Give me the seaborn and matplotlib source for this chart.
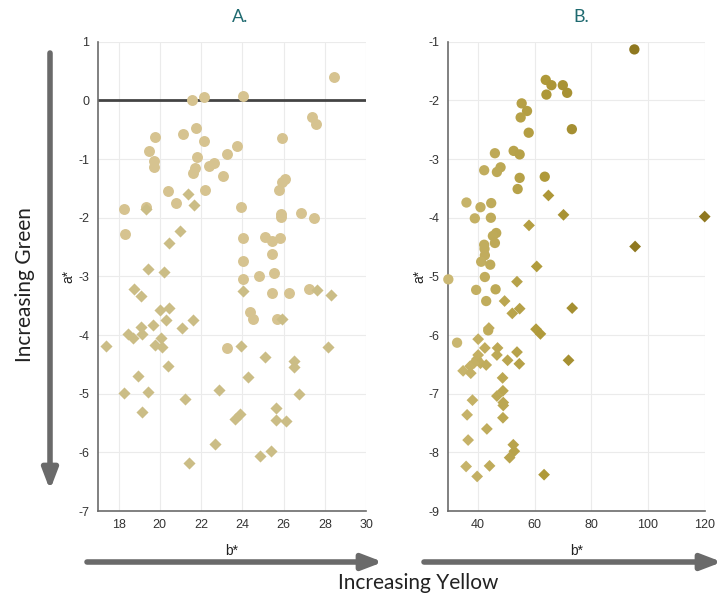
import pandas as pd
import matplotlib.pyplot as plt
import seaborn as sns
from matplotlib.colors import LinearSegmentedColormap

# =============================================================================
# Data (b* on x, a* on y)
# =============================================================================

# Panel A - circles
a_circle_b = [28.42, 21.57, 22.15, 24.01, 27.40, 27.58, 21.74, 21.14, 19.77, 25.93,
              22.13, 19.46, 23.72, 23.27, 21.78, 19.72, 19.72, 22.64, 22.38, 21.71,
              21.61, 23.07, 26.09, 25.91, 25.78, 22.21, 20.41, 20.77, 23.93, 18.29,
              19.31, 26.82, 25.86, 25.86, 27.45, 18.32, 24.01, 25.08, 25.44, 25.83,
              25.44, 24.03, 24.04, 24.82, 25.55, 25.46, 26.28, 27.22, 24.37, 24.50,
              25.68, 23.28]
a_circle_a = [0.40, 0.00, 0.06, 0.07, -0.28, -0.40, -0.47, -0.58, -0.63, -0.64,
              -0.69, -0.86, -0.77, -0.91, -0.97, -1.03, -1.13, -1.06, -1.11, -1.16,
              -1.24, -1.29, -1.34, -1.39, -1.53, -1.53, -1.55, -1.74, -1.81, -1.85,
              -1.82, -1.92, -1.94, -1.98, -2.01, -2.28, -2.35, -2.32, -2.39, -2.35,
              -2.61, -2.73, -3.05, -2.99, -2.94, -3.28, -3.28, -3.22, -3.60, -3.73,
              -3.73, -4.22]

# Panel A - diamonds
a_diamond_b = [19.31, 21.37, 21.65, 21.00, 20.45, 19.41, 20.22, 18.76, 19.10, 20.45,
               19.99, 20.32, 19.65, 19.10, 19.13, 21.08, 21.61, 18.45, 18.68, 20.04,
               19.77, 20.12, 17.37, 20.41, 18.94, 18.29, 19.41, 21.24, 19.13, 21.40,
               22.68, 22.86, 23.64, 23.88, 23.96, 24.01, 24.26, 24.87, 25.41, 25.11,
               25.63, 25.63, 26.10, 25.94, 26.52, 26.51, 26.74, 27.63, 28.28, 28.16]
a_diamond_a = [-1.85, -1.59, -1.79, -2.23, -2.43, -2.88, -2.92, -3.22, -3.33, -3.54,
               -3.57, -3.75, -3.83, -3.87, -3.98, -3.88, -3.75, -3.98, -4.05, -4.05,
               -4.17, -4.20, -4.18, -4.52, -4.69, -4.99, -4.97, -5.09, -5.31, -6.18,
               -5.85, -4.93, -5.43, -5.34, -4.19, -3.25, -4.72, -6.06, -5.97, -4.37,
               -5.25, -5.45, -5.47, -3.73, -4.45, -4.54, -5.00, -3.23, -3.32, -4.20]

# Panel B - circles
b_circle_b = [95.2, 63.95, 65.96, 69.97, 64.19, 71.50, 55.46, 57.35, 55.10, 73.16,
              57.94, 46.02, 52.63, 54.75, 42.24, 48.02, 46.73, 63.60, 54.75, 54.04,
              35.99, 40.94, 44.72, 38.94, 44.60, 46.49, 45.31, 46.02, 42.24, 42.36,
              42.48, 41.18, 44.37, 42.48, 29.6, 39.41, 46.26, 42.95, 43.66, 32.68]
b_circle_a = [-1.13, -1.65, -1.74, -1.74, -1.90, -1.87, -2.05, -2.18, -2.29, -2.49,
              -2.55, -2.90, -2.86, -2.92, -3.19, -3.14, -3.22, -3.30, -3.32, -3.51,
              -3.74, -3.82, -3.75, -4.01, -4.00, -4.26, -4.31, -4.43, -4.46, -4.53,
              -4.64, -4.75, -4.80, -5.01, -5.05, -5.23, -5.22, -5.42, -5.92, -6.13]

# Panel B - diamonds
b_diamond_b = [64.90, 70.21, 58.05, 95.46, 120.0, 60.77, 53.81, 54.75, 49.44, 52.15,
               73.27, 60.53, 62.07, 43.89, 40.12, 42.48, 46.96, 46.73, 53.81, 50.50,
               54.63, 71.98, 40.12, 39.65, 40.94, 42.95, 38.58, 37.29, 34.81, 37.52,
               48.73, 48.85, 46.73, 48.97, 48.97, 38.11, 48.85, 36.22, 43.19, 36.58,
               52.51, 52.86, 51.21, 35.87, 44.13, 39.76, 63.36]
b_diamond_a = [-3.62, -3.95, -4.13, -4.49, -3.98, -4.83, -5.09, -5.55, -5.42, -5.63,
               -5.54, -5.90, -5.98, -5.88, -6.07, -6.22, -6.22, -6.34, -6.29, -6.43,
               -6.49, -6.43, -6.34, -6.41, -6.48, -6.51, -6.48, -6.53, -6.61, -6.65,
               -6.73, -6.95, -7.04, -7.15, -7.20, -7.11, -7.41, -7.36, -7.60, -7.79,
               -7.87, -7.98, -8.09, -8.24, -8.23, -8.41, -8.38]

# =============================================================================
# Styling
# =============================================================================

sns.set_style('white')
plt.rcParams['font.family'] = ['Liberation Sans', 'DejaVu Sans']
plt.rcParams['axes.unicode_minus'] = False

GRID = '#ebebeb'
AXIS = '#6b6b6b'
TEAL = '#1f6a70'
ARROW = '#6a6a6a'

cmap_b = LinearSegmentedColormap.from_list('olive', ['#cbb873', '#b09a3a', '#8f7820'])

fig = plt.figure(figsize=(7.25, 5.97), dpi=100)
ax_a = fig.add_axes([0.135, 0.144, 0.370, 0.786])
ax_b = fig.add_axes([0.618, 0.144, 0.354, 0.786])


def style_axis(ax, xlim, ylim, xticks, yticks):
    ax.set_xlim(*xlim)
    ax.set_ylim(*ylim)
    ax.set_xticks(xticks)
    ax.set_yticks(yticks)
    ax.grid(True, color=GRID, lw=0.8, zorder=0)
    ax.set_axisbelow(True)
    for side in ['top', 'right']:
        ax.spines[side].set_visible(False)
    for side in ['left', 'bottom']:
        ax.spines[side].set_color(AXIS)
        ax.spines[side].set_linewidth(1.2)
    ax.tick_params(direction='in', length=3, width=0.8, color=AXIS,
                   labelsize=9, labelcolor='#333333', pad=6)
    ax.set_xlabel('b*', fontsize=10, color='#222222', labelpad=9)
    ax.set_ylabel('a*', fontsize=10, color='#222222', labelpad=2)


# Panel A
ax_a.axhline(0, color='#444444', lw=2, zorder=2)
sns.scatterplot(x=a_circle_b, y=a_circle_a, marker='o', color='#d6c390', s=62,
                linewidth=0, ax=ax_a, clip_on=False, zorder=3)
sns.scatterplot(x=a_diamond_b, y=a_diamond_a, marker='D', color='#cbbd86', s=38,
                linewidth=0, ax=ax_a, clip_on=False, zorder=3)
style_axis(ax_a, (17, 30), (-7, 1), range(18, 31, 2), range(-7, 2))

# Panel B
sns.scatterplot(x=b_circle_b, y=b_circle_a, hue=b_circle_b, palette=cmap_b,
                hue_norm=(30, 95), marker='o', s=55, linewidth=0, legend=False,
                ax=ax_b, clip_on=False, zorder=3)
sns.scatterplot(x=b_diamond_b, y=b_diamond_a, hue=b_diamond_b, palette=cmap_b,
                hue_norm=(30, 95), marker='D', s=36, linewidth=0, legend=False,
                ax=ax_b, clip_on=False, zorder=3)
style_axis(ax_b, (29.5, 120), (-9, -1), range(40, 121, 20), range(-9, 0))

# Panel titles
fig.text(240 / 725, 1 - 17 / 597, 'A.', ha='center', va='center',
         color=TEAL, fontsize=13, family=['Lato', 'DejaVu Sans'])
fig.text(581 / 725, 1 - 17 / 597, 'B.', ha='center', va='center',
         color=TEAL, fontsize=13, family=['Lato', 'DejaVu Sans'])

# Direction arrows
arrow_props = dict(arrowstyle='-|>,head_length=1.1,head_width=0.42', lw=4,
                   color=ARROW, shrinkA=0, shrinkB=0, mutation_scale=11)
fig.add_artist(plt.Annotation('', xy=(50 / 725, 1 - 490 / 597), xytext=(50 / 725, 1 - 53 / 597),
                              xycoords='figure fraction', arrowprops=arrow_props))
fig.add_artist(plt.Annotation('', xy=(383 / 725, 1 - 562 / 597), xytext=(87 / 725, 1 - 562 / 597),
                              xycoords='figure fraction', arrowprops=arrow_props))
fig.add_artist(plt.Annotation('', xy=(722 / 725, 1 - 562 / 597), xytext=(424 / 725, 1 - 562 / 597),
                              xycoords='figure fraction', arrowprops=arrow_props))

fig.text(25 / 725, 1 - 285 / 597, 'Increasing Green', rotation=90, ha='center', va='center',
         fontsize=15, color='#222222', family=['Lato', 'DejaVu Sans'])
fig.text(418 / 725, 1 - 583 / 597, 'Increasing Yellow', ha='center', va='center',
         fontsize=15, color='#222222', family=['Lato', 'DejaVu Sans'])

fig.savefig('out.png', dpi=100)
